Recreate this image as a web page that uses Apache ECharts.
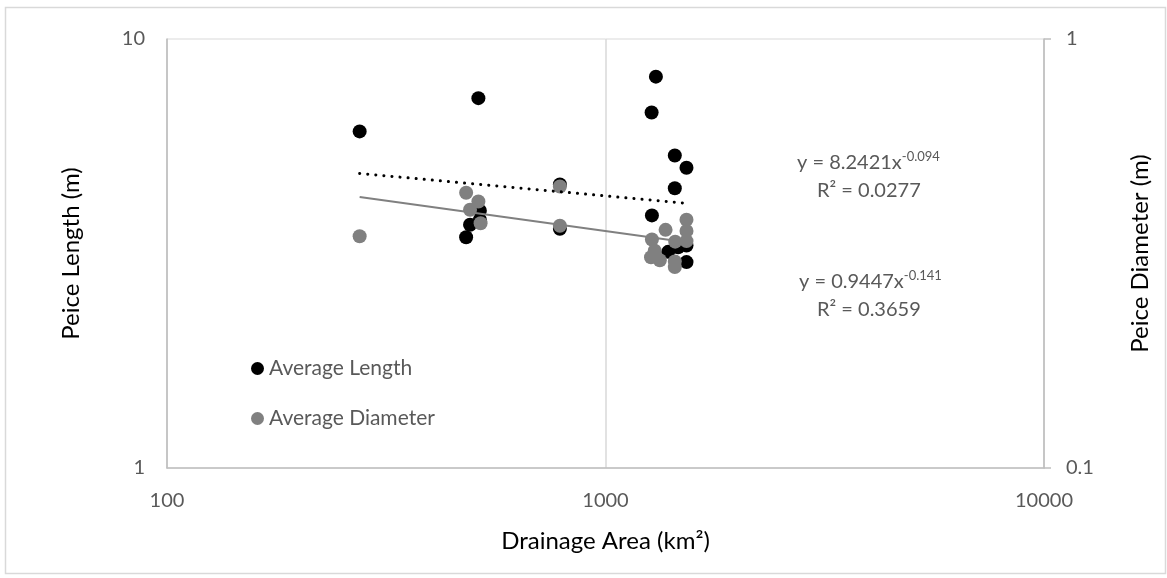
<!DOCTYPE html>
<html>
<head>
<meta charset="utf-8">
<script src="https://cdn.jsdelivr.net/npm/echarts@6/dist/echarts.min.js"></script>
<style>
  html, body { margin: 0; padding: 0; background: #fff; }
  #chart { width: 1167px; height: 578px; }
</style>
</head>
<body>
<div id="chart"></div>
<script>
// drainage area (km2) and average piece length (m)
var lengthArea = [275, 513, 517, 517, 491, 481, 787, 787, 1303, 1274, 1439, 1530, 1439, 1276, 1530, 1390, 1464, 1530];
var lengthVal  = [6.09, 7.28, 3.98, 3.79, 3.69, 3.45, 4.58, 3.61, 8.17, 6.74, 5.35, 5.01, 4.49, 3.88, 3.30, 3.19, 3.27, 3.02];

// drainage area (km2) and average piece diameter (m)
var diamArea = [275, 481, 513, 491, 519, 787, 787, 1530, 1371, 1530, 1276, 1442, 1530, 1295, 1270, 1330, 1439, 1439];
var diamVal  = [0.347, 0.438, 0.418, 0.400, 0.372, 0.453, 0.367, 0.379, 0.359, 0.357, 0.341, 0.337, 0.338, 0.321, 0.310, 0.305, 0.303, 0.294];

// trendline end points
var lengthTrendX = [275, 1530];
var lengthTrendY = [4.86, 4.14];
var diamTrendX = [275, 1530];
var diamTrendY = [0.428, 0.336];

var xTicks = [100, 1000, 10000];
var leftTicks = [1, 10];
var rightTicks = [0.1, 1];

function pairs(xs, ys) {
  return xs.map(function (x, i) { return [x, ys[i]]; });
}
function plain(v) { return String(v); }

var font = 'Lato, "Open Sans", sans-serif';
var myChart = echarts.init(document.getElementById('chart'));

var eqRich = {
  a: { fontFamily: font, fontSize: 20, fill: '#595959', lineHeight: 26 },
  s: { fontFamily: font, fontSize: 13, fill: '#595959', verticalAlign: 'top', lineHeight: 26, padding: [0, 0, 10, 0] }
};

var option = {
  animation: false,
  textStyle: { fontFamily: font },
  grid: {
    left: 167, top: 39, right: 123, bottom: 110,
    show: true, borderColor: '#d9d9d9', borderWidth: 1
  },
  legend: {
    data: ['Average Length', 'Average Diameter'],
    orient: 'vertical',
    left: 246, top: 353,
    icon: 'circle',
    itemWidth: 13, itemHeight: 13,
    itemGap: 29,
    textStyle: { fontFamily: font, fontSize: 21, color: '#595959' }
  },
  xAxis: {
    type: 'log', logBase: 10,
    min: xTicks[0], max: xTicks[xTicks.length - 1],
    name: 'Drainage Area (km²)',
    nameLocation: 'middle', nameGap: 61,
    nameTextStyle: { fontFamily: font, fontSize: 24, color: '#000' },
    axisLine: { show: true, lineStyle: { color: '#bfbfbf', width: 1.5 } },
    axisTick: { show: false },
    axisLabel: { fontSize: 20, color: '#595959', margin: 23, formatter: plain },
    splitLine: { show: true, lineStyle: { color: '#d9d9d9', width: 1.5 } }
  },
  yAxis: [
    {
      type: 'log', logBase: 10,
      min: leftTicks[0], max: leftTicks[1],
      position: 'left',
      name: 'Peice Length (m)',
      nameLocation: 'middle', nameGap: 84,
      nameTextStyle: { fontFamily: font, fontSize: 24, color: '#000' },
      axisLine: { show: true, lineStyle: { color: '#bfbfbf', width: 1.5 } },
      axisTick: { show: false },
      axisLabel: { fontSize: 20, color: '#595959', margin: 22, formatter: plain },
      splitLine: { show: false }
    },
    {
      type: 'log', logBase: 10,
      min: rightTicks[0], max: rightTicks[1],
      position: 'right',
      name: 'Peice Diameter (m)',
      nameLocation: 'middle', nameGap: 84,
      nameRotate: 90,
      nameTextStyle: { fontFamily: font, fontSize: 24, color: '#000' },
      axisLine: { show: true, lineStyle: { color: '#bfbfbf', width: 1.5 } },
      axisTick: { show: true, length: 7, lineStyle: { color: '#bfbfbf', width: 1.5 } },
      axisLabel: { fontSize: 20, color: '#595959', margin: 22, formatter: plain },
      splitLine: { show: false }
    }
  ],
  series: [
    {
      name: 'Average Length',
      type: 'scatter',
      yAxisIndex: 0,
      symbolSize: 14,
      itemStyle: { color: '#000000', opacity: 1 },
      data: pairs(lengthArea, lengthVal),
      z: 2
    },
    {
      name: 'Average Diameter',
      type: 'scatter',
      yAxisIndex: 1,
      symbolSize: 14,
      itemStyle: { color: '#808080', opacity: 1 },
      data: pairs(diamArea, diamVal),
      z: 3
    },
    {
      name: 'Length trend',
      type: 'line',
      yAxisIndex: 0,
      showSymbol: false,
      silent: true,
      lineStyle: { color: '#000', width: 3, type: [0.1, 8], cap: 'round' },
      data: pairs(lengthTrendX, lengthTrendY),
      z: 4
    },
    {
      name: 'Diameter trend',
      type: 'line',
      yAxisIndex: 1,
      showSymbol: false,
      silent: true,
      lineStyle: { color: '#808080', width: 2 },
      data: pairs(diamTrendX, diamTrendY),
      z: 4
    }
  ],
  graphic: [
    {
      type: 'rect',
      shape: { x: 5.5, y: 7.5, width: 1160, height: 566 },
      style: { fill: 'none', stroke: '#d9d9d9', lineWidth: 1.5 },
      silent: true, z: -1
    },
    {
      type: 'text', left: 797, top: 150,
      style: { text: '{a|y = 8.2421x}{s|-0.094}', rich: eqRich }
    },
    {
      type: 'text', left: 817, top: 181,
      style: { text: 'R² = 0.0277', fontFamily: font, fontSize: 20, fill: '#595959' }
    },
    {
      type: 'text', left: 799, top: 269,
      style: { text: '{a|y = 0.9447x}{s|-0.141}', rich: eqRich }
    },
    {
      type: 'text', left: 817, top: 300,
      style: { text: 'R² = 0.3659', fontFamily: font, fontSize: 20, fill: '#595959' }
    }
  ]
};

myChart.setOption(option);
</script>
</body>
</html>
